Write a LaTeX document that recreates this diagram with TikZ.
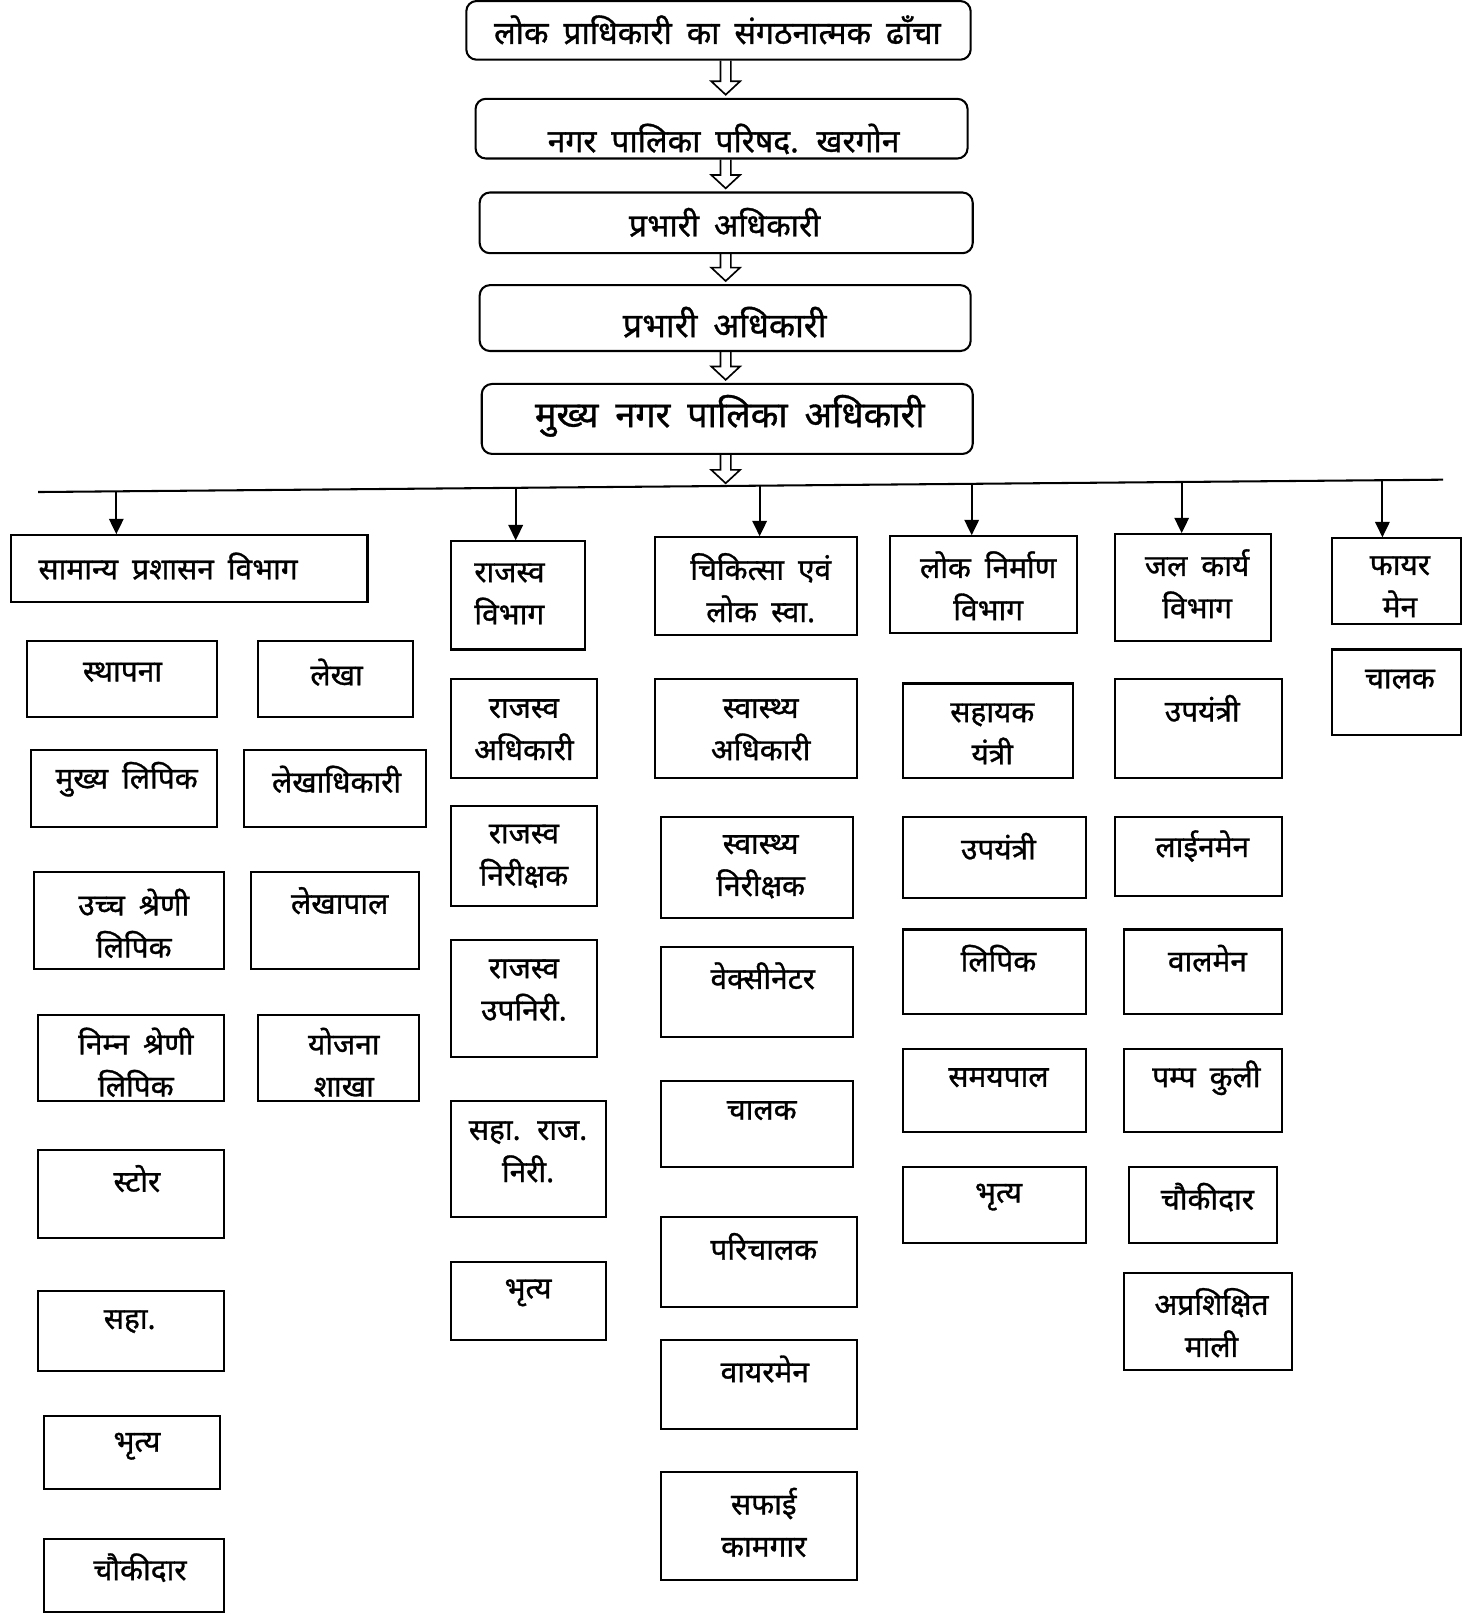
\documentclass[tikz,border=0pt]{standalone}
\usepackage{fontspec}
\newfontfamily\dev[Script=Devanagari,WordSpace=1.8,FakeBold=1]{Noto Sans}
\usetikzlibrary{fit,arrows.meta,calc}
\newcommand\bx[6][box]{\node[#1,fit={(#3,#4) (#5,#6)}] (#2) {};}
\newcommand\harrow[2]{%
  \path (axis |- #1) coordinate (ha) (axis |- #2) coordinate (hb);
  \draw[harr] ([xshift=-2.5pt]ha) -- ([xshift=-2.5pt,yshift=8pt]hb) -- ([xshift=-7pt,yshift=8pt]hb)
     -- ([yshift=1.5pt]hb) -- ([xshift=7pt,yshift=8pt]hb) -- ([xshift=2.5pt,yshift=8pt]hb) -- ([xshift=2.5pt]ha);}
\begin{document}
\begin{tikzpicture}[x=0.5pt,y=-0.5pt,
  box/.style={draw,line width=1pt,inner sep=0pt},
  rbox/.style={box,rounded corners=5pt},
  txt/.style={font=\dev\fontsize{14.5}{20.5}\selectfont,align=center,inner sep=0pt},
  ttl/.style={font=\dev\fontsize{15.5}{20}\selectfont,inner sep=0pt},
  darr/.style={line width=1pt,-{Triangle[length=7.5pt,width=7pt]}},
  harr/.style={line width=0.8pt}]
\useasboundingbox (0,0) rectangle (1436,1568);
\coordinate (axis) at (705,0);
% top chain
\bx[rbox]{t1}{453}{1}{943}{58}
\bx[rbox]{t2}{462}{96}{940}{154}
\bx[rbox]{t3}{466}{187}{945}{246}
\bx[rbox]{t4}{466}{277}{943}{341}
\bx[rbox]{t5}{468}{373}{945}{441}
\node[ttl] (t1t) at (697,29) {लोक प्राधिकारी का संगठनात्मक ढाँचा};
\node[ttl] (t2t) at (703,135) {नगर पालिका परिषद. खरगोन};
\node[ttl] (t3t) at (704,216) {प्रभारी अधिकारी};
\node[ttl,font=\dev\fontsize{16.5}{20}\selectfont] (t4t) at (704,313) {प्रभारी अधिकारी};
\node[ttl,font=\dev\fontsize{17.5}{20}\selectfont] (t5t) at (709,404) {मुख्य नगर पालिका अधिकारी};
% horizontal line
\coordinate (hlL) at (37,478);
\coordinate (hlR) at (1402,466);
\coordinate (hl) at (705,472.5);
\draw[line width=1pt] (hlL) -- (hlR);
\harrow{t1.south}{t2.north}
\harrow{t2.south}{t3.north}
\harrow{t3.south}{t4.north}
\harrow{t4.south}{t5.north}
\harrow{t5.south}{hl}
% departments
\bx{ga}{11}{520}{357}{585}
\node[txt,anchor=west] (gat) at (37,550) {सामान्य प्रशासन विभाग};
\bx{rv}{438}{526}{568}{631}
\node[txt,align=left] (rvt) at (495,577) {राजस्व\\विभाग};
\bx{md}{636}{522}{833}{617}
\node[txt] (mdt) at (739,571) {चिकित्सा एवं\\लोक स्वा.};
\bx{pw}{865}{521}{1046}{615}
\node[txt] (pwt) at (960,569) {लोक निर्माण\\विभाग};
\bx{wt}{1083}{519}{1235}{623}
\node[txt] (wtt) at (1163,567) {जल कार्य\\विभाग};
\bx{fr}{1294}{523}{1419}{606}
\node[txt] (frt) at (1360,570) {फायर\\मेन};
% arrows down
\coordinate (d1) at (113,477.3);
\coordinate (d2) at (501,473.9);
\coordinate (d3) at (738,471.8);
\coordinate (d4) at (944,470.0);
\coordinate (d5) at (1148,468.2);
\coordinate (d6) at (1343,466.5);
\draw[darr] (d1) -- (d1 |- ga.north);
\draw[darr] (d2) -- (d2 |- rv.north);
\draw[darr] (d3) -- (d3 |- md.north);
\draw[darr] (d4) -- (d4 |- pw.north);
\draw[darr] (d5) -- (d5 |- wt.north);
\draw[darr] (d6) -- (d6 |- fr.north);
% general administration, left
\bx{ga1}{26}{623}{211}{697}   \node[txt] (ga1t) at (119,653) {स्थापना};
\bx{ga2}{30}{729}{211}{803}   \node[txt] (ga2t) at (123,757) {मुख्य लिपिक};
\bx{ga3}{33}{847}{218}{941}   \node[txt] (ga3t) at (130,897) {उच्च श्रेणी\\लिपिक};
\bx{ga4}{37}{986}{218}{1070}  \node[txt] (ga4t) at (132,1032) {निम्न श्रेणी\\लिपिक};
\bx{ga5}{37}{1117}{218}{1203} \node[txt] (ga5t) at (133,1145) {स्टोर};
\bx{ga6}{37}{1254}{218}{1332} \node[txt] (ga6t) at (126,1284) {सहा.};
\bx{ga7}{43}{1376}{214}{1447} \node[txt] (ga7t) at (133,1405) {भृत्य};
\bx{ga8}{43}{1495}{218}{1566} \node[txt] (ga8t) at (136,1523) {चौकीदार};
% general administration, right
\bx{gb1}{251}{623}{401}{697}  \node[txt] (gb1t) at (327,653) {लेखा};
\bx{gb2}{237}{729}{414}{803}  \node[txt] (gb2t) at (327,757) {लेखाधिकारी};
\bx{gb3}{244}{847}{407}{941}  \node[txt] (gb3t) at (330,875) {लेखापाल};
\bx{gb4}{251}{986}{407}{1070} \node[txt] (gb4t) at (334,1032) {योजना\\शाखा};
% revenue
\bx{rv1}{438}{660}{580}{756}   \node[txt] (rv1t) at (509,709) {राजस्व\\अधिकारी};
\bx{rv2}{438}{783}{580}{880}   \node[txt] (rv2t) at (509,832) {राजस्व\\निरीक्षक};
\bx{rv3}{438}{913}{580}{1027}  \node[txt] (rv3t) at (509,962) {राजस्व\\उपनिरी.};
\bx{rv4}{438}{1070}{589}{1182} \node[txt] (rv4t) at (513,1119) {सहा. राज.\\निरी.};
\bx{rv5}{438}{1226}{589}{1302} \node[txt] (rv5t) at (513,1256) {भृत्य};
% medical
\bx{md1}{636}{660}{833}{756}   \node[txt] (md1t) at (739,709) {स्वास्थ्य\\अधिकारी};
\bx{md2}{642}{794}{829}{892}   \node[txt] (md2t) at (739,842) {स्वास्थ्य\\निरीक्षक};
\bx{md3}{642}{920}{829}{1007}  \node[txt] (md3t) at (741,948) {वेक्सीनेटर};
\bx{md4}{642}{1050}{829}{1134} \node[txt] (md4t) at (740,1079) {चालक};
\bx{md5}{642}{1182}{833}{1270} \node[txt] (md5t) at (742,1211) {परिचालक};
\bx{md6}{642}{1302}{833}{1388} \node[txt] (md6t) at (743,1330) {वायरमेन};
\bx{md7}{642}{1430}{833}{1535} \node[txt] (md7t) at (742,1479) {सफाई\\कामगार};
% public works
\bx{pw1}{877}{664}{1042}{756}  \node[txt] (pw1t) at (964,713) {सहायक\\यंत्री};
\bx{pw2}{877}{794}{1055}{872}  \node[txt] (pw2t) at (970,822) {उपयंत्री};
\bx{pw3}{877}{903}{1055}{985}  \node[txt] (pw3t) at (970,931) {लिपिक};
\bx{pw4}{877}{1019}{1055}{1100} \node[txt] (pw4t) at (970,1047) {समयपाल};
\bx{pw5}{877}{1134}{1055}{1208} \node[txt] (pw5t) at (970,1163) {भृत्य};
% water works
\bx{wt1}{1083}{660}{1245}{756}  \node[txt] (wt1t) at (1168,688) {उपयंत्री};
\bx{wt2}{1083}{794}{1245}{870}  \node[txt] (wt2t) at (1168,822) {लाईनमेन};
\bx{wt3}{1092}{903}{1245}{985}  \node[txt] (wt3t) at (1173,931) {वालमेन};
\bx{wt4}{1092}{1019}{1245}{1100} \node[txt] (wt4t) at (1172,1047) {पम्प कुली};
\bx{wt5}{1097}{1134}{1241}{1208} \node[txt] (wt5t) at (1173,1163) {चौकीदार};
\bx{wt6}{1092}{1237}{1255}{1331} \node[txt] (wt6t) at (1177,1285) {अप्रशिक्षित\\माली};
% fire
\bx{fr1}{1294}{631}{1419}{714}  \node[txt] (fr1t) at (1360,660) {चालक};
\end{tikzpicture}
\end{document}
